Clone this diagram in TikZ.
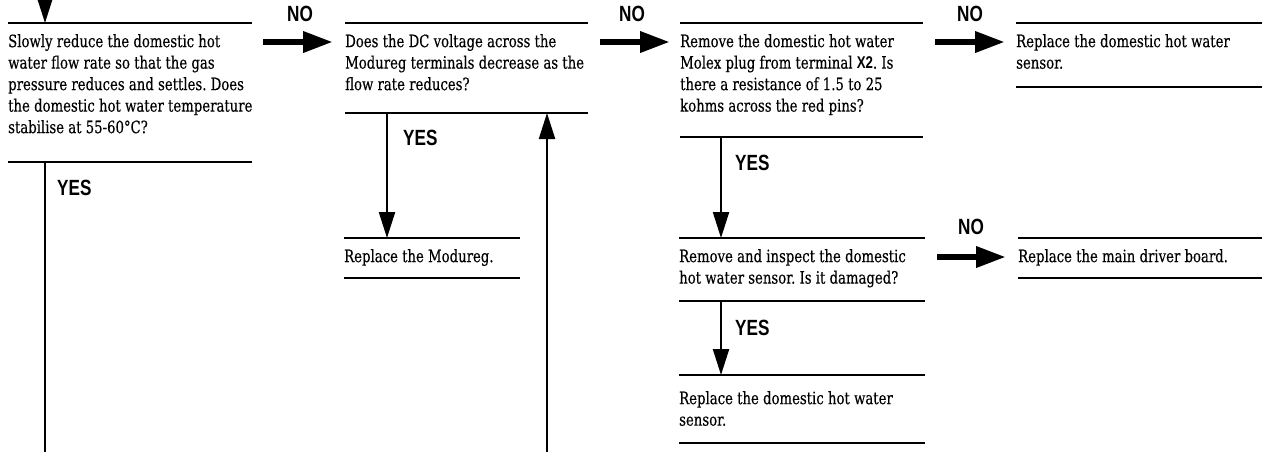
\documentclass[tikz,border=0pt]{standalone}
\usepackage{fontspec}
\setmainfont[FakeStretch=0.78,FakeBold=0.3]{DejaVu Serif}
\newfontfamily\lblfont[FakeStretch=0.78]{Liberation Sans}
\usetikzlibrary{arrows.meta,calc}
\begin{document}
\frenchspacing
\begin{tikzpicture}[x=1pt,y=-1pt,
  rule/.style={line width=2pt},
  boxarea/.style={inner sep=0pt,outer sep=0pt,anchor=north west,
    append after command={
      (\tikzlastnode.north west) edge[rule] (\tikzlastnode.north east)
      (\tikzlastnode.south west) edge[rule] (\tikzlastnode.south east)}},
  txt/.style={inner sep=0pt,anchor=north west,align=left,
    font=\fontsize{17}{21.5}\selectfont},
  lbl/.style={inner sep=0pt,font=\lblfont\bfseries\fontsize{22}{22}\selectfont},
  thinarrow/.style={line width=2.2pt,-{Triangle[length=26pt,width=16pt]}},
  fatarrow/.style={line width=6.5pt,-{Triangle[length=30pt,width=20pt]}},
  vline/.style={line width=2.2pt}
]
\useasboundingbox[fill=white] (0,0) rectangle (1271,451);

% boxes
\node[boxarea,minimum width=244pt,minimum height=139pt] (b1) at (8,23) {};
\node[boxarea,minimum width=243pt,minimum height=90pt] (b2) at (345,23) {};
\node[boxarea,minimum width=243pt,minimum height=114pt] (b3) at (680,23) {};
\node[boxarea,minimum width=246pt,minimum height=64pt] (b6) at (1016,23) {};
\node[boxarea,minimum width=176pt,minimum height=40pt] (b4) at (344,238) {};
\node[boxarea,minimum width=246pt,minimum height=63pt] (b5) at (679,238) {};
\node[boxarea,minimum width=244pt,minimum height=40pt] (b7) at (1018,238) {};
\node[boxarea,minimum width=246pt,minimum height=68pt] (b8) at (679,375) {};

% texts
\node[txt] (t1) at ($(b1.north west)+(0,11)$) {Slowly reduce the domestic hot\\water flow rate so that the gas\\pressure reduces and settles. Does\\the domestic hot water temperature\\stabilise at 55-60°C?};
\node[txt] (t2) at ($(b2.north west)+(0,11)$) {Does the DC voltage across the\\Modureg terminals decrease as the\\flow rate reduces?};
\node[txt] (t3) at ($(b3.north west)+(0,11)$) {Remove the domestic hot water\\Molex plug from terminal {\lblfont\bfseries X2}. Is\\there a resistance of 1.5 to 25\\kohms across the red pins?};
\node[txt] (t6) at ($(b6.north west)+(0,11)$) {Replace the domestic hot water\\sensor.};
\node[txt] (t4) at ($(b4.north west)+(0,11)$) {Replace the Modureg.};
\node[txt] (t5) at ($(b5.north west)+(0,11)$) {Remove and inspect the domestic\\hot water sensor. Is it damaged?};
\node[txt] (t7) at ($(b7.north west)+(0,11)$) {Replace the main driver board.};
\node[txt] (t8) at ($(b8.north west)+(0,16)$) {Replace the domestic hot water\\sensor.};

% free ends
\coordinate (top1) at (45,-14);
\coordinate (bot1) at (45,470);
\coordinate (bot2) at (547,470);

% thin connectors
\draw[thinarrow] (top1) -- (top1 |- b1.north);
\draw[vline] (b1.south -| top1) -- (bot1);
\draw[thinarrow] ($(b2.south west)+(42,0)$) -- ($(b4.north west)+(43,0)$);
\draw[thinarrow] (bot2) -- (bot2 |- b2.south);
\draw[thinarrow] ($(b3.south west)+(41,0)$) -- ($(b5.north west)+(42,0)$);
\draw[thinarrow] ($(b5.south west)+(42,0)$) -- ($(b8.north west)+(42,0)$);

% fat NO connectors
\draw[fatarrow] ($(b1.north east)+(11,19)$) -- ($(b2.north west)+(-12,19)$);
\draw[fatarrow] ($(b2.north east)+(12,19)$) -- ($(b3.north west)+(-10,19)$);
\draw[fatarrow] ($(b3.north east)+(12,19)$) -- ($(b6.north west)+(-11,19)$);
\draw[fatarrow] ($(b5.north east)+(12,19)$) -- ($(b7.north west)+(-12,19)$);

% labels
\node[lbl] (no1) at (300,14) {NO};
\node[lbl] (no2) at (632,14) {NO};
\node[lbl] (no3) at (970,14) {NO};
\node[lbl] (no4) at (971,227) {NO};
\node[lbl,anchor=west] (yes1) at (57,188) {YES};
\node[lbl,anchor=west] (yes2) at (403,138) {YES};
\node[lbl,anchor=west] (yes3) at (735,163) {YES};
\node[lbl,anchor=west] (yes4) at (735,328) {YES};
\end{tikzpicture}
\end{document}
